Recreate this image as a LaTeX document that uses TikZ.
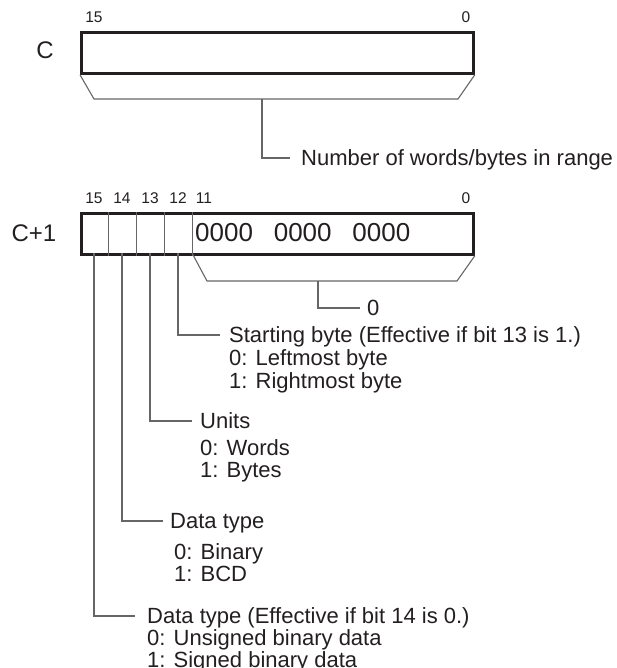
\documentclass[tikz,border=0pt]{standalone}
\usepackage{fontspec}
\setmainfont{Liberation Sans}
\definecolor{ink}{HTML}{231F20}
\definecolor{leadc}{HTML}{666666}
\tikzset{
  wordbox/.style={draw=ink, line width=2.8pt, minimum width=392pt, minimum height=41pt, anchor=north west, inner sep=0pt},
  lead/.style={draw=leadc, line width=1.1pt},
  divider/.style={draw=leadc, line width=1pt},
  txt/.style={inner sep=0pt, anchor=west, text=ink, font=\fontsize{22}{22}\selectfont, text height=15.7pt, text depth=0pt},
  bitlbl/.style={inner sep=0pt, anchor=center, text=ink, font=\fontsize{15.5}{15.5}\selectfont, text height=11pt, text depth=0pt},
  reglbl/.style={inner sep=0pt, anchor=center, text=ink, font=\fontsize{24}{24}\selectfont, text height=17.2pt, text depth=0pt},
}
\begin{document}
\begin{tikzpicture}[x=1pt, y=-1pt]
\useasboundingbox (0,0) rectangle (616,668);

% ---------- word C ----------
\node[bitlbl] (c15) at (94,17) {15};
\node[bitlbl] (c0) at (466,17) {0};
\node[reglbl] (cname) at (45,50) {C};
\node[wordbox] (boxC) at (80,31) {};
\coordinate (bCl) at (94,99);
\coordinate (bCr) at (458,99);
\coordinate (stemC) at (262,99);
\draw[lead] (boxC.south west) -- (bCl) -- (bCr) -- (boxC.south east);
\node[txt] (numw) at (301,158) {Number of words/bytes in range};
\draw[lead] (stemC) |- ([xshift=-11pt]numw.west);

% ---------- word C+1 ----------
\node[bitlbl] (d15) at (94,198) {15};
\node[bitlbl] (d14) at (122,198) {14};
\node[bitlbl] (d13) at (150,198) {13};
\node[bitlbl] (d12) at (178,198) {12};
\node[bitlbl] (d11) at (204,198) {11};
\node[bitlbl] (d0) at (466,198) {0};
\node[reglbl] (dname) at (34,233) {C+1};
\node[wordbox] (boxD) at (80,212) {};
\foreach \i in {1,2,3,4} {
  \draw[divider] ([xshift=28*\i pt]boxD.north west) -- ([xshift=28*\i pt]boxD.south west);
}
\node[inner sep=0pt, anchor=west, text=ink, font=\fontsize{26}{26}\selectfont, text height=18.6pt, text depth=0pt] (zeros) at (195,232) {0000\hspace{0.8em}0000\hspace{0.8em}0000};

\coordinate (bDs) at (192,253);
\coordinate (bDl) at (207,281);
\coordinate (bDr) at (457,281);
\coordinate (stemD) at (318,281);
\draw[lead] (bDs) -- (bDl) -- (bDr) -- (boxD.south east);
\node[txt] (zero) at (367,308) {0};
\draw[lead] (stemD) |- ([xshift=-7pt]zero.west);

% ---------- bit 12 ----------
\coordinate (s12) at (178,253);
\node[txt] (sb) at (229,335) {Starting byte (Effective if bit 13 is 1.)};
\node[txt] (sb0) at (229,358) {0: Leftmost byte};
\node[txt] (sb1) at (229,381) {1: Rightmost byte};
\draw[lead] (s12) |- ([xshift=-9pt]sb.west);

% ---------- bit 13 ----------
\coordinate (s13) at (150,253);
\node[txt] (un) at (200,421) {Units};
\node[txt] (un0) at (200,448) {0: Words};
\node[txt] (un1) at (200,470) {1: Bytes};
\draw[lead] (s13) |- ([xshift=-8pt]un.west);

% ---------- bit 14 ----------
\coordinate (s14) at (122,253);
\node[txt] (dt) at (170,521) {Data type};
\node[txt] (dt0) at (174,552) {0: Binary};
\node[txt] (dt1) at (174,574) {1: BCD};
\draw[lead] (s14) |- ([xshift=-7pt]dt.west);

% ---------- bit 15 ----------
\coordinate (s15) at (94,253);
\node[txt] (de) at (147,616) {Data type (Effective if bit 14 is 0.)};
\node[txt] (de0) at (147,638) {0: Unsigned binary data};
\node[txt] (de1) at (147,660) {1: Signed binary data};
\draw[lead] (s15) |- ([xshift=-12pt]de.west);
\end{tikzpicture}
\end{document}
